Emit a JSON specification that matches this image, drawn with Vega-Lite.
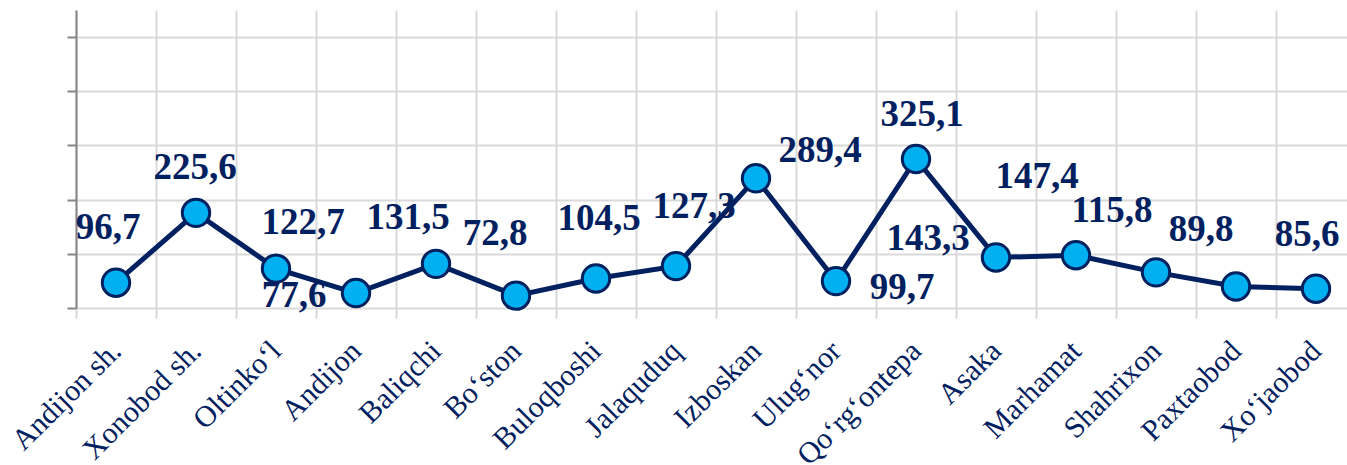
{
  "$schema": "https://vega.github.io/schema/vega-lite/v6.json",
  "width": 1271,
  "height": 298,
  "autosize": {"type": "none"},
  "padding": {"left": 76, "top": 10, "right": 0, "bottom": 157},
  "background": "white",
  "config": {
    "view": {"stroke": null},
    "locale": {"number": {"decimal": ",", "thousands": "\u00a0", "grouping": [3], "currency": ["", ""]}},
    "text": {"font": "Liberation Serif", "fontWeight": "bold", "fontSize": 37, "color": "#002060", "align": "center", "baseline": "middle"}
  },
  "data": {
    "values": [
      {"district": "Andijon sh.", "value": 96.7},
      {"district": "Xonobod sh.", "value": 225.6},
      {"district": "Oltinko‘l", "value": 122.7},
      {"district": "Andijon", "value": 77.6},
      {"district": "Baliqchi", "value": 131.5},
      {"district": "Bo‘ston", "value": 72.8},
      {"district": "Buloqboshi", "value": 104.5},
      {"district": "Jalaquduq", "value": 127.3},
      {"district": "Izboskan", "value": 289.4},
      {"district": "Ulug‘nor", "value": 99.7},
      {"district": "Qo‘rg‘ontepa", "value": 325.1},
      {"district": "Asaka", "value": 143.3},
      {"district": "Marhamat", "value": 147.4},
      {"district": "Shahrixon", "value": 115.8},
      {"district": "Paxtaobod", "value": 89.8},
      {"district": "Xo‘jaobod", "value": 85.6}
    ]
  },
  "encoding": {
    "x": {
      "field": "district", "type": "nominal", "sort": null, "bandPosition": 0.5,
      "scale": {"type": "band", "range": [0, 1280], "paddingInner": 0, "paddingOuter": 0},
      "axis": {
        "title": null, "tickBand": "extent", "grid": true, "gridColor": "#D9D9D9", "gridWidth": 2,
        "tickColor": "#D9D9D9", "tickWidth": 2, "tickSize": 10, "domain": false,
        "labelAngle": -45, "labelAlign": "right", "labelBaseline": "middle",
        "labelFont": "Liberation Serif", "labelFontSize": 30, "labelColor": "#002060",
        "labelPadding": 28, "labelLimit": 400, "labelOverlap": false, "labelBound": false, "labelFlush": false
      }
    },
    "y": {
      "field": "value", "type": "quantitative",
      "scale": {"domain": [50, 600], "nice": false, "zero": false},
      "axis": {
        "title": null, "values": [50, 150, 250, 350, 450, 550], "labels": false,
        "grid": true, "gridColor": "#D9D9D9", "gridWidth": 2,
        "domainColor": "#868686", "domainWidth": 2, "tickColor": "#868686", "tickWidth": 2, "tickSize": 9
      }
    }
  },
  "layer": [
    {"mark": {"type": "line", "color": "#002060", "strokeWidth": 5}},
    {"mark": {"type": "circle", "color": "#00B0F0", "stroke": "#002060", "strokeWidth": 3, "size": 750, "opacity": 1}},
    {"transform": [{"filter": {"field": "district", "equal": "Andijon sh."}}], "mark": {"type": "text", "font": "Liberation Serif", "fontWeight": "bold", "fontSize": 37, "color": "#002060", "dx": -8, "dy": -55}, "encoding": {"text": {"field": "value", "type": "quantitative", "format": ".1f"}}},
    {"transform": [{"filter": {"field": "district", "equal": "Xonobod sh."}}], "mark": {"type": "text", "font": "Liberation Serif", "fontWeight": "bold", "fontSize": 37, "color": "#002060", "dx": -1, "dy": -45}, "encoding": {"text": {"field": "value", "type": "quantitative", "format": ".1f"}}},
    {"transform": [{"filter": {"field": "district", "equal": "Oltinko‘l"}}], "mark": {"type": "text", "font": "Liberation Serif", "fontWeight": "bold", "fontSize": 37, "color": "#002060", "dx": 27, "dy": -46}, "encoding": {"text": {"field": "value", "type": "quantitative", "format": ".1f"}}},
    {"transform": [{"filter": {"field": "district", "equal": "Andijon"}}], "mark": {"type": "text", "font": "Liberation Serif", "fontWeight": "bold", "fontSize": 37, "color": "#002060", "dx": -62, "dy": 3}, "encoding": {"text": {"field": "value", "type": "quantitative", "format": ".1f"}}},
    {"transform": [{"filter": {"field": "district", "equal": "Baliqchi"}}], "mark": {"type": "text", "font": "Liberation Serif", "fontWeight": "bold", "fontSize": 37, "color": "#002060", "dx": -28, "dy": -46}, "encoding": {"text": {"field": "value", "type": "quantitative", "format": ".1f"}}},
    {"transform": [{"filter": {"field": "district", "equal": "Bo‘ston"}}], "mark": {"type": "text", "font": "Liberation Serif", "fontWeight": "bold", "fontSize": 37, "color": "#002060", "dx": -21, "dy": -62}, "encoding": {"text": {"field": "value", "type": "quantitative", "format": ".1f"}}},
    {"transform": [{"filter": {"field": "district", "equal": "Buloqboshi"}}], "mark": {"type": "text", "font": "Liberation Serif", "fontWeight": "bold", "fontSize": 37, "color": "#002060", "dx": 3, "dy": -59}, "encoding": {"text": {"field": "value", "type": "quantitative", "format": ".1f"}}},
    {"transform": [{"filter": {"field": "district", "equal": "Jalaquduq"}}], "mark": {"type": "text", "font": "Liberation Serif", "fontWeight": "bold", "fontSize": 37, "color": "#002060", "dx": 18, "dy": -59}, "encoding": {"text": {"field": "value", "type": "quantitative", "format": ".1f"}}},
    {"transform": [{"filter": {"field": "district", "equal": "Izboskan"}}], "mark": {"type": "text", "font": "Liberation Serif", "fontWeight": "bold", "fontSize": 37, "color": "#002060", "dx": 64, "dy": -27}, "encoding": {"text": {"field": "value", "type": "quantitative", "format": ".1f"}}},
    {"transform": [{"filter": {"field": "district", "equal": "Ulug‘nor"}}], "mark": {"type": "text", "font": "Liberation Serif", "fontWeight": "bold", "fontSize": 37, "color": "#002060", "dx": 66, "dy": 7}, "encoding": {"text": {"field": "value", "type": "quantitative", "format": ".1f"}}},
    {"transform": [{"filter": {"field": "district", "equal": "Qo‘rg‘ontepa"}}], "mark": {"type": "text", "font": "Liberation Serif", "fontWeight": "bold", "fontSize": 37, "color": "#002060", "dx": 6, "dy": -44}, "encoding": {"text": {"field": "value", "type": "quantitative", "format": ".1f"}}},
    {"transform": [{"filter": {"field": "district", "equal": "Asaka"}}], "mark": {"type": "text", "font": "Liberation Serif", "fontWeight": "bold", "fontSize": 37, "color": "#002060", "dx": -68, "dy": -18}, "encoding": {"text": {"field": "value", "type": "quantitative", "format": ".1f"}}},
    {"transform": [{"filter": {"field": "district", "equal": "Marhamat"}}], "mark": {"type": "text", "font": "Liberation Serif", "fontWeight": "bold", "fontSize": 37, "color": "#002060", "dx": -39, "dy": -78}, "encoding": {"text": {"field": "value", "type": "quantitative", "format": ".1f"}}},
    {"transform": [{"filter": {"field": "district", "equal": "Shahrixon"}}], "mark": {"type": "text", "font": "Liberation Serif", "fontWeight": "bold", "fontSize": 37, "color": "#002060", "dx": -44, "dy": -61}, "encoding": {"text": {"field": "value", "type": "quantitative", "format": ".1f"}}},
    {"transform": [{"filter": {"field": "district", "equal": "Paxtaobod"}}], "mark": {"type": "text", "font": "Liberation Serif", "fontWeight": "bold", "fontSize": 37, "color": "#002060", "dx": -35, "dy": -56}, "encoding": {"text": {"field": "value", "type": "quantitative", "format": ".1f"}}},
    {"transform": [{"filter": {"field": "district", "equal": "Xo‘jaobod"}}], "mark": {"type": "text", "font": "Liberation Serif", "fontWeight": "bold", "fontSize": 37, "color": "#002060", "dx": -9, "dy": -54}, "encoding": {"text": {"field": "value", "type": "quantitative", "format": ".1f"}}}
  ]
}
